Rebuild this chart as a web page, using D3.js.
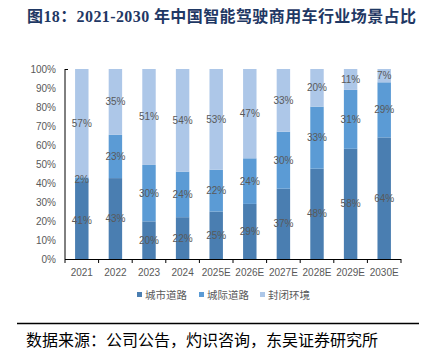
<!DOCTYPE html>
<html><head><meta charset="utf-8">
<script src="https://cdn.jsdelivr.net/npm/d3@7"></script>
<style>body{margin:0;background:#fff}svg{display:block}</style>
</head><body>
<script>
const categories = ["2021","2022","2023","2024","2025E","2026E","2027E","2028E","2029E","2030E"];
const seriesNames = ["城市道路","城际道路","封闭环境"];
const cityRoad   = [41,43,20,22,25,29,37,48,58,64];
const intercity  = [2,23,30,24,22,24,30,33,31,29];
const closedEnv  = [57,35,51,54,53,47,33,20,11,7];
const yTicks = [0,10,20,30,40,50,60,70,80,90,100];
const colors = ["#4A7EB1","#5B9BD5","#ADC7E8"];

const W=425,H=359;
const svg=d3.select("body").append("svg").attr("width",W).attr("height",H);
const m={l:65,r:401,t:69,b:259};

const rows=categories.map((c,i)=>({cat:c,"城市道路":cityRoad[i],"城际道路":intercity[i],"封闭环境":closedEnv[i]}));
const stack=d3.stack().keys(seriesNames).offset(d3.stackOffsetExpand);
const layers=stack(rows);

const x=d3.scaleBand().domain(categories).range([m.l,m.r]).paddingInner(0.6).paddingOuter(0.3);
const y=d3.scaleLinear().domain([0,1]).range([m.b,m.t]);

// title
svg.append("text").attr("x",27).attr("y",22)
  .attr("font-family","Liberation Serif, Noto Sans CJK SC").attr("font-weight","bold")
  .attr("font-size",16).attr("fill","#1F3864").attr("letter-spacing",0.4)
  .text("图18：2021-2030 年中国智能驾驶商用车行业场景占比");

// bars
const g=svg.append("g");
layers.forEach((layer,li)=>{
  g.selectAll(null).data(layer).enter().append("rect")
   .attr("x",d=>x(d.data.cat)).attr("width",x.bandwidth())
   .attr("y",d=>y(d[1])).attr("height",d=>y(d[0])-y(d[1]))
   .attr("fill",colors[li]);
});
// labels
const raw=[cityRoad,intercity,closedEnv];
layers.forEach((layer,li)=>{
  g.selectAll(null).data(layer).enter().append("text")
   .attr("x",d=>x(d.data.cat)+x.bandwidth()/2)
   .attr("y",d=>y((d[0]+d[1])/2)+3.5)
   .attr("text-anchor","middle").attr("font-family","Liberation Sans, Arial")
   .attr("font-size",10).attr("fill","#595959")
   .text((d,i)=>raw[li][i]+"%");
});

// y axis
const ya=svg.append("g");
ya.append("line").attr("x1",m.l).attr("x2",m.l).attr("y1",m.t).attr("y2",m.b).attr("stroke","#000").attr("stroke-width",1);
ya.append("line").attr("x1",m.l).attr("x2",m.l+3).attr("y1",m.t+0.5).attr("y2",m.t+0.5).attr("stroke","#000");
ya.selectAll(null).data(yTicks).enter().append("text")
  .attr("x",m.l-9).attr("y",d=>y(d/100)+3.5).attr("text-anchor","end")
  .attr("font-family","Liberation Sans, Arial").attr("font-size",10).attr("fill","#595959")
  .text(d=>d+"%");

// x axis
const xa=svg.append("g");
xa.append("line").attr("x1",m.l).attr("x2",m.r).attr("y1",m.b+0.5).attr("y2",m.b+0.5).attr("stroke","#000").attr("stroke-width",1.2);
const bounds=d3.range(categories.length+1).map(i=>m.l+i*(m.r-m.l)/categories.length);
xa.selectAll(null).data(bounds).enter().append("line")
  .attr("x1",d=>d).attr("x2",d=>d).attr("y1",m.b).attr("y2",m.b+4).attr("stroke","#000");
xa.selectAll(null).data(categories).enter().append("text")
  .attr("x",d=>x(d)+x.bandwidth()/2).attr("y",m.b+17).attr("text-anchor","middle")
  .attr("font-family","Liberation Sans, Arial").attr("font-size",10).attr("fill","#595959")
  .text(d=>d);

// legend
const lx=[137,199,260];
const lg=svg.append("g");
seriesNames.forEach((s,i)=>{
  lg.append("rect").attr("x",lx[i]).attr("y",292).attr("width",5).attr("height",5).attr("fill",colors[i]);
  lg.append("text").attr("x",lx[i]+8).attr("y",299).attr("font-family","Noto Sans CJK SC")
    .attr("font-size",10.5).attr("fill","#595959").text(s);
});

// rule & source
svg.append("line").attr("x1",17).attr("x2",419).attr("y1",323.5).attr("y2",323.5).attr("stroke","#000").attr("stroke-width",1.5);
svg.append("text").attr("x",26).attr("y",346).attr("font-family","Noto Sans CJK SC")
  .attr("font-size",16).attr("fill","#000").text("数据来源：公司公告，灼识咨询，东吴证券研究所");
</script>
</body></html>
